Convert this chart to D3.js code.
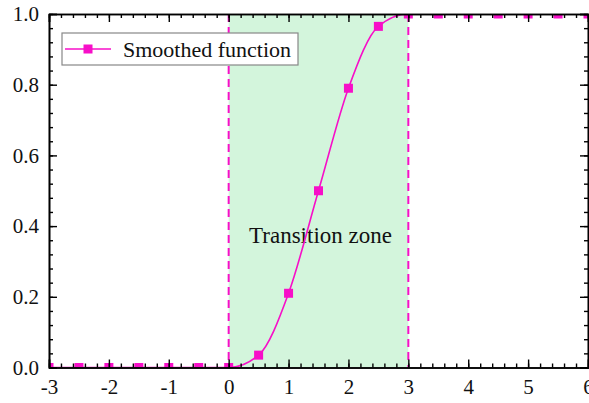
<!DOCTYPE html>
<html>
<head>
<meta charset="utf-8">
<script src="https://cdn.jsdelivr.net/npm/d3@7"></script>
<style>
  body { margin: 0; background: #fff; }
  svg, svg text { font-family: "Liberation Serif", "Times New Roman", serif; }
  svg { display: block; }
</style>
</head>
<body>
<svg id="chart"></svg>
<script>
// data
var xValues = [-3, -2.5, -2, -1.5, -1, -0.5, 0, 0.5, 1, 1.5, 2, 2.5, 3, 3.5, 4, 4.5, 5, 5.5, 6];
var yValues = [0, 0, 0, 0, 0, 0, 0, 0.035, 0.21, 0.5, 0.79, 0.965, 1, 1, 1, 1, 1, 1, 1];
var xTicks = [-3, -2, -1, 0, 1, 2, 3, 4, 5, 6];
var yTicks = [0, 0.2, 0.4, 0.6, 0.8, 1.0];
var zone = [0, 3];
var seriesName = "Smoothed function";
var zoneLabel = "Transition zone";

var W = 589, H = 403;
var margin = {left: 49, top: 14, right: 1, bottom: 35.5};
var w = W - margin.left - margin.right, h = H - margin.top - margin.bottom;
var pink = "#f70fc8";
var serif = "'Liberation Serif', 'Times New Roman', serif";

var svg = d3.select("#chart").attr("width", W).attr("height", H);
var g = svg.append("g").attr("transform", "translate(" + margin.left + "," + margin.top + ")");

var x = d3.scaleLinear().domain([-3, 6]).range([0, w]);
var y = d3.scaleLinear().domain([0, 1]).range([h, 0]);

g.append("clipPath").attr("id", "clip")
  .append("rect").attr("width", w).attr("height", h);

var plot = g.append("g").attr("clip-path", "url(#clip)");

// green zone
plot.append("rect")
  .attr("x", x(zone[0])).attr("y", 0)
  .attr("width", x(zone[1]) - x(zone[0])).attr("height", h)
  .attr("fill", "#d3f5dc");

plot.selectAll("line.zone")
  .data(zone).enter().append("line")
  .attr("class", "zone")
  .attr("x1", function(d) { return x(d); }).attr("x2", function(d) { return x(d); })
  .attr("y1", 0).attr("y2", h)
  .attr("stroke", pink).attr("stroke-width", 2)
  .attr("stroke-dasharray", "8,5");

plot.append("text")
  .attr("x", x(1.5) + 2).attr("y", 229)
  .attr("text-anchor", "middle")
  .style("font-family", serif).style("font-size", "23px")
  .attr("fill", "#111")
  .text(zoneLabel);

var points = xValues.map(function(d, i) { return [d, yValues[i]]; });
var line = d3.line()
  .x(function(d) { return x(d[0]); })
  .y(function(d) { return y(d[1]); })
  .curve(d3.curveMonotoneX);

plot.append("path").datum(points)
  .attr("d", line)
  .attr("fill", "none").attr("stroke", pink).attr("stroke-width", 1.6);

var ms = 9;
plot.selectAll("rect.pt")
  .data(points).enter().append("rect")
  .attr("class", "pt")
  .attr("x", function(d) { return x(d[0]) - ms / 2; })
  .attr("y", function(d) { return y(d[1]) - ms / 2; })
  .attr("width", ms).attr("height", ms)
  .attr("fill", pink);

// axes, ticks pointing inwards
function minor(step, lo, hi) {
  return d3.range(lo, hi + step / 2, step);
}
var xMinor = minor(0.2, -3, 6);
var yMinor = minor(0.04, 0, 1);
var fmtX = function(d) { return String(d); };  // plain hyphen minus like the original

function styleAxis(sel) {
  sel.attr("font-family", null).attr("font-size", null);
  sel.select(".domain").attr("stroke", "#000").attr("stroke-width", 1.6);
  sel.selectAll(".tick line").attr("stroke", "#000").attr("stroke-width", 1.4);
  sel.selectAll("text").attr("fill", "#111")
    .style("font-family", serif).style("font-size", "21px");
}

var axBottom = g.append("g").attr("transform", "translate(0," + h + ")")
  .call(d3.axisBottom(x).tickValues(xTicks).tickFormat(fmtX).tickSize(-8).tickPadding(12));
styleAxis(axBottom);
g.append("g").attr("transform", "translate(0," + h + ")")
  .call(d3.axisBottom(x).tickValues(xMinor).tickFormat("").tickSize(-4).tickSizeOuter(0))
  .call(styleAxis);

var axTop = g.append("g")
  .call(d3.axisTop(x).tickValues(xTicks).tickFormat("").tickSize(-8));
styleAxis(axTop);
g.append("g").call(d3.axisTop(x).tickValues(xMinor).tickFormat("").tickSize(-4).tickSizeOuter(0)).call(styleAxis);

var axLeft = g.append("g")
  .call(d3.axisLeft(y).tickValues(yTicks).tickFormat(d3.format(".1f")).tickSize(-8).tickPadding(10));
styleAxis(axLeft);
g.append("g").call(d3.axisLeft(y).tickValues(yMinor).tickFormat("").tickSize(-4).tickSizeOuter(0)).call(styleAxis);

var axRight = g.append("g").attr("transform", "translate(" + w + ",0)")
  .call(d3.axisRight(y).tickValues(yTicks).tickFormat("").tickSize(-8));
styleAxis(axRight);
g.append("g").attr("transform", "translate(" + w + ",0)")
  .call(d3.axisRight(y).tickValues(yMinor).tickFormat("").tickSize(-4).tickSizeOuter(0)).call(styleAxis);

// legend
var lg = svg.append("g").attr("transform", "translate(62,33)");
lg.append("rect").attr("width", 236).attr("height", 32)
  .attr("fill", "#fff").attr("stroke", "#888").attr("stroke-width", 1.2);
lg.append("line").attr("x1", 3).attr("x2", 49).attr("y1", 16).attr("y2", 16)
  .attr("stroke", pink).attr("stroke-width", 1.6);
lg.append("rect").attr("x", 26 - 4.5).attr("y", 16 - 4.5).attr("width", 9).attr("height", 9)
  .attr("fill", pink);
lg.append("text").attr("x", 61).attr("y", 23.5)
  .style("font-family", serif).style("font-size", "22px")
  .attr("fill", "#111")
  .text(seriesName);
</script>
</body>
</html>
